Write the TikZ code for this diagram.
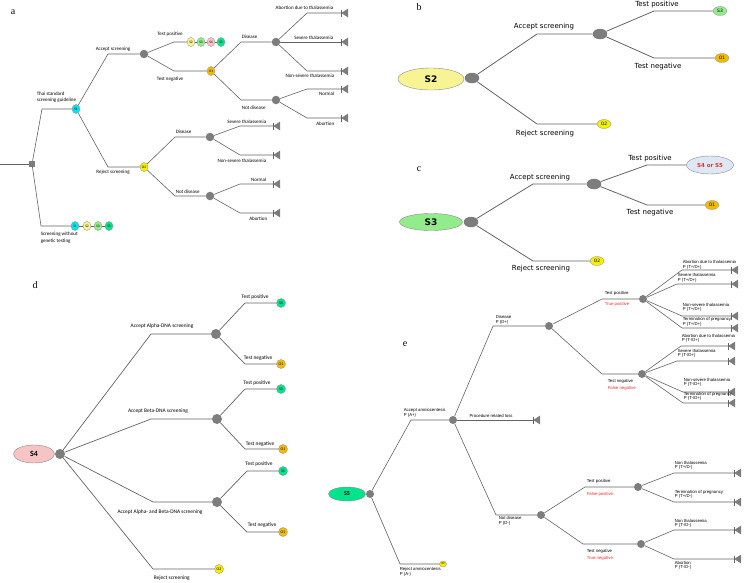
\documentclass[tikz,border=0pt]{standalone}
\usepackage{fontspec}
\setmainfont{Liberation Serif}
\newfontfamily\calfont{Carlito}
\newfontfamily\verfont{DejaVu Sans}
\newfontfamily\arfont{Liberation Sans}
\usepackage{tikz}
\usetikzlibrary{shapes.geometric}
\definecolor{linegray}{RGB}{100,100,100}
\definecolor{nodegray}{RGB}{125,125,125}
\definecolor{taggray}{RGB}{140,140,140}
\definecolor{cSone}{RGB}{0,228,238}
\definecolor{cStwo}{RGB}{248,244,150}
\definecolor{cSthree}{RGB}{146,236,140}
\definecolor{cSfour}{RGB}{246,196,196}
\definecolor{cSfive}{RGB}{0,228,140}
\definecolor{cOone}{RGB}{242,188,0}
\definecolor{cOtwo}{RGB}{244,240,0}
\definecolor{cSfs}{RGB}{222,231,243}
\definecolor{txtred}{RGB}{255,40,40}
\newcommand{\lblA}{\calfont\fontsize{5}{6.8}\selectfont}
\newcommand{\lblB}{\verfont\fontsize{7}{8}\selectfont}
\newcommand{\lblD}{\calfont\fontsize{5.4}{6.4}\selectfont}
\newcommand{\lblE}{\arfont\fontsize{4.3}{4.5}\selectfont}
\newcommand{\tagA}{\calfont\fontsize{3.6}{4}\selectfont}
\newcommand{\tagB}{\verfont\fontsize{4.5}{5}\selectfont}
\newcommand{\tagD}{\calfont\fontsize{4}{4.5}\selectfont}
\newcommand{\tagE}{\calfont\fontsize{3}{3.5}\selectfont}
\newcommand{\bigB}{\verfont\bfseries\fontsize{9}{10}\selectfont}
\newcommand{\smallB}{\verfont\bfseries\fontsize{5.5}{6}\selectfont}
\newcommand{\bigD}{\calfont\bfseries\fontsize{8}{9}\selectfont}
\newcommand{\bigE}{\calfont\bfseries\fontsize{6}{7}\selectfont}

\begin{document}
\begin{tikzpicture}[x=1pt, y=-1pt,
    ln/.style={draw=linegray, line width=0.7pt},
    chance/.style={ellipse, fill=nodegray, inner sep=0pt, chsz},
    chsz/.style={minimum width=8.5pt, minimum height=8.5pt},
    dec/.style={rectangle, fill=nodegray, minimum size=6pt, inner sep=0pt},
    tag/.style={ellipse, draw=taggray, line width=0.3pt, fill=#1, inner sep=0pt, tagsz},
    tagsz/.style={minimum width=8pt, minimum height=9pt, font=\tagA},
    state/.style={ellipse, draw=taggray, line width=0.4pt, fill=#1, inner sep=0pt},
    term/.style={anchor=west, inner sep=0pt, minimum width=7pt, minimum height=9pt,
        path picture={
            \fill[nodegray] (path picture bounding box.west) -- (path picture bounding box.north east)
                -- (path picture bounding box.south east) -- cycle;
            \draw[linegray, line width=0.9pt] ([xshift=0.45pt, yshift=3.5pt]path picture bounding box.west)
                -- ([xshift=0.45pt, yshift=-3.5pt]path picture bounding box.west);}},
    lbl/.style={inner sep=0.5pt, align=left, font=\lblA},
    panel/.style={font=\fontsize{10}{12}\selectfont, inner sep=0pt}
]
\useasboundingbox (0,0) rectangle (753,582);

% a: main tree
\begin{scope}[lbl/.style={inner sep=0.5pt, align=left, font=\lblA}, ln/.style={draw=linegray, line width=0.6pt}]
\node[panel] (la) at (13,12) {a};
\coordinate (ain) at (0,164);
\node[dec] (root) at (32,164) {};
\node[tag=cSone] (a1) at (76,109) {S1};
\node[tag=cSone] (b1) at (75,226) {S1};
\node[tag=cStwo] (b2) at (87,226) {S2};
\node[tag=cSthree] (b3) at (98,226) {S3};
\node[tag=cSfive] (b5) at (109,226) {S5};
\node[chance] (ac1) at (144,54) {};
\node[tag=cOtwo] (aO2) at (144,167) {O2};
\node[tag=cStwo] (p2) at (191,42) {S2};
\node[tag=cSthree] (p3) at (201,42) {S3};
\node[tag=cSfour] (p4) at (211,42) {S4};
\node[tag=cSfive] (p5) at (221,42) {S5};
\node[tag=cOone] (aO1) at (211,71) {O1};
\node[chance] (ac2) at (276,42) {};
\node[chance] (ac3) at (276,100) {};
\node[chance] (ac4) at (210,137) {};
\node[chance] (ac5) at (210,196) {};
\node[term] (at1) at (341,13) {};
\node[term] (at2) at (341,42) {};
\node[term] (at3) at (341,71) {};
\node[term] (at4) at (341,89) {};
\node[term] (at5) at (341,118) {};
\node[term] (at6) at (273,126) {};
\node[term] (at7) at (273,155) {};
\node[term] (at8) at (273,184) {};
\node[term] (at9) at (273,213) {};

\draw[ln] (ain) -- (root);
\draw[ln] (root) -- ([xshift=-34pt]a1.center) node[lbl, above right, xshift=-6pt, yshift=5.5pt] {Thai standard\\screening guideline} -- (a1);
\draw[ln] (root) -- ([xshift=-34pt]b1.center) node[lbl, below right, xshift=-1pt, yshift=-5pt] {Screening without\\genetic testing} -- (b1);
\draw[ln] (b1) -- (b2) -- (b3) -- (b5);
\draw[ln] (a1) -- ([xshift=-36pt]ac1.center) node[lbl, above, xshift=5pt, yshift=2pt] {Accept screening} -- (ac1);
\draw[ln] (a1) -- ([xshift=-36pt]aO2.center) node[lbl, below, xshift=5pt, yshift=-2pt] {Reject screening} -- (aO2);
\draw[ln] (ac1) -- ([xshift=-17pt]p2.center) node[lbl, above, xshift=-4pt, yshift=5pt] {Test positive} -- (p2);
\draw[ln] (p2) -- (p3) -- (p4) -- (p5);
\draw[ln] (ac1) -- ([xshift=-37pt]aO1.center) node[lbl, below, xshift=-4pt, yshift=-5pt] {Test negative} -- (aO1);
\draw[ln] (aO1) -- ([xshift=-35pt]ac2.center) node[lbl, above right, yshift=3pt] {Disease} -- (ac2);
\draw[ln] (aO1) -- ([xshift=-35pt]ac3.center) node[lbl, below right, yshift=-5pt] {Not disease} -- (ac3);
\draw[ln] (ac2) -- ([xshift=-34pt]at1.west) -- (at1.west) node[lbl, above left, xshift=-7pt, yshift=3pt] {Abortion due to thalassemia};
\draw[ln] (ac2) -- (at2.west) node[lbl, above left, xshift=-7pt, yshift=2pt] {Severe thalassemia};
\draw[ln] (ac2) -- ([xshift=-34pt]at3.west) -- (at3.west) node[lbl, below left, xshift=-6pt, yshift=-2pt] {Non-severe thalassemia};
\draw[ln] (ac3) -- ([xshift=-34pt]at4.west) -- (at4.west) node[lbl, below left, xshift=-6pt, yshift=-2pt] {Normal};
\draw[ln] (ac3) -- ([xshift=-34pt]at5.west) -- (at5.west) node[lbl, below left, xshift=-6pt, yshift=-3pt] {Abortion};
\draw[ln] (aO2) -- ([xshift=-35pt]ac4.center) node[lbl, above right, yshift=3pt] {Disease} -- (ac4);
\draw[ln] (aO2) -- ([xshift=-35pt]ac5.center) node[lbl, above right, yshift=2pt] {Not disease} -- (ac5);
\draw[ln] (ac4) -- ([xshift=-33pt]at6.west) -- (at6.west) node[lbl, above left, xshift=-6pt, yshift=2pt] {Severe thalassemia};
\draw[ln] (ac4) -- ([xshift=-33pt]at7.west) -- (at7.west) node[lbl, below left, xshift=-6pt, yshift=-3pt] {Non-severe thalassemia};
\draw[ln] (ac5) -- ([xshift=-33pt]at8.west) -- (at8.west) node[lbl, above left, xshift=-6pt, yshift=2pt] {Normal};
\draw[ln] (ac5) -- ([xshift=-33pt]at9.west) -- (at9.west) node[lbl, below left, xshift=-5pt, yshift=-3pt] {Abortion};
\end{scope}

% b: S2
\begin{scope}[lbl/.style={inner sep=0.5pt, align=left, font=\lblB},
    tagsz/.style={minimum width=13.5pt, minimum height=9pt, font=\tagB},
    chsz/.style={minimum width=14.5pt, minimum height=10.5pt}, ln/.style={draw=linegray, line width=0.8pt}]
\node[panel] (lb) at (419,7) {b};
\node[state=cStwo, minimum width=66pt, minimum height=22pt, font=\bigB] (S2) at (431,79) {S2};
\node[chance] (bc0) at (472,78) {};
\node[chance] (bc1) at (600,34) {};
\node[tag=cOtwo] (bO2) at (604,124) {O2};
\node[tag=cSthree] (bS3) at (720,11) {S3};
\node[tag=cOone] (bO1) at (722,58) {O1};
\draw[ln] (bc0) -- ([xshift=-63pt]bc1.center) node[lbl, above, xshift=7pt, yshift=3.5pt] {Accept screening} -- (bc1);
\draw[ln] (bc0) -- ([xshift=-67pt]bO2.center) node[lbl, below, xshift=8pt, yshift=-5.5pt] {Reject screening} -- (bO2);
\draw[ln] (bc1) -- ([xshift=-66pt]bS3.center) node[lbl, above, xshift=3pt, yshift=2.5pt] {Test positive} -- (bS3);
\draw[ln] (bc1) -- ([xshift=-68pt]bO1.center) node[lbl, below, xshift=4pt, yshift=-4pt] {Test negative} -- (bO1);
\end{scope}

% c: S3
\begin{scope}[lbl/.style={inner sep=0.5pt, align=left, font=\lblB},
    tagsz/.style={minimum width=13.5pt, minimum height=9pt, font=\tagB},
    chsz/.style={minimum width=14.5pt, minimum height=10.5pt}, ln/.style={draw=linegray, line width=0.8pt}]
\node[panel] (lc) at (419,169) {c};
\node[state=cSthree, minimum width=63pt, minimum height=17pt, font=\bigB] (S3) at (431,222) {S3};
\node[chance] (cc0) at (471,222) {};
\node[chance] (cc1) at (594,184) {};
\node[tag=cOtwo] (cO2) at (597,261) {O2};
\node[state=cSfs, minimum width=47pt, minimum height=18pt, font=\smallB, text=txtred] (S45) at (710,165) {S4 or S5};
\node[tag=cOone] (cO1) at (712,205) {O1};
\draw[ln] (cc0) -- ([xshift=-61pt]cc1.center) node[lbl, above, xshift=7pt, yshift=2.5pt] {Accept screening} -- (cc1);
\draw[ln] (cc0) -- ([xshift=-64pt]cO2.center) node[lbl, below, xshift=8pt, yshift=-3.5pt] {Reject screening} -- (cO2);
\draw[ln] (cc1) -- ([xshift=-63pt]S45.center) node[lbl, above, xshift=3pt, yshift=2.5pt] {Test positive} -- (S45);
\draw[ln] (cc1) -- ([xshift=-65pt]cO1.center) node[lbl, below, xshift=3pt, yshift=-3pt] {Test negative} -- (cO1);
\end{scope}

% d: S4
\begin{scope}[lbl/.style={inner sep=0.5pt, align=left, font=\lblD},
    tagsz/.style={minimum width=9pt, minimum height=9pt, font=\tagD},
    chsz/.style={minimum width=10pt, minimum height=10pt}]
\node[panel] (ld) at (35,285) {d};
\node[state=cSfour, minimum width=41pt, minimum height=18pt, font=\bigD] (S4) at (34,454) {S4};
\node[chance] (dc0) at (60,454) {};
\node[chance] (dc1) at (216,334) {};
\node[chance] (dc2) at (217,419) {};
\node[chance] (dc3) at (217,502) {};
\node[tag=cOtwo] (dO2) at (219,569) {O2};
\node[tag=cSfive] (dS5a) at (281,303) {S5};
\node[tag=cOone] (dO1a) at (281,364) {O1};
\node[tag=cSfive] (dS5b) at (281,389) {S5};
\node[tag=cOone] (dO1b) at (283,449) {O1};
\node[tag=cSfive] (dS5c) at (283,471) {S5};
\node[tag=cOone] (dO1c) at (283,532) {O1};
\draw[ln] (dc0) -- ([xshift=-65pt]dc1.center) node[lbl, above, xshift=11pt, yshift=4.5pt] {Accept Alpha-DNA screening} -- (dc1);
\draw[ln] (dc0) -- ([xshift=-66pt]dc2.center) node[lbl, above, xshift=7pt, yshift=4.5pt] {Accept Beta-DNA screening} -- (dc2);
\draw[ln] (dc0) -- ([xshift=-64pt]dc3.center) node[lbl, below, xshift=7pt, yshift=-6.5pt] {Accept Alpha- and Beta-DNA screening} -- (dc3);
\draw[ln] (dc0) -- ([xshift=-66pt]dO2.center) node[lbl, below right, yshift=-5.5pt] {Reject screening} -- (dO2);
\draw[ln] (dc1) -- ([xshift=-36pt]dS5a.center) node[lbl, above, xshift=10pt, yshift=2.5pt] {Test positive} -- (dS5a);
\draw[ln] (dc1) -- ([xshift=-36pt]dO1a.center) node[lbl, above, xshift=13pt, yshift=2.5pt] {Test negative} -- (dO1a);
\draw[ln] (dc2) -- ([xshift=-36pt]dS5b.center) node[lbl, above, xshift=12pt, yshift=2.5pt] {Test positive} -- (dS5b);
\draw[ln] (dc2) -- ([xshift=-38pt]dO1b.center) node[lbl, above, xshift=15pt, yshift=1.5pt] {Test negative} -- (dO1b);
\draw[ln] (dc3) -- ([xshift=-36pt]dS5c.center) node[lbl, above, xshift=12pt, yshift=3.5pt] {Test positive} -- (dS5c);
\draw[ln] (dc3) -- ([xshift=-36pt]dO1c.center) node[lbl, above, xshift=15pt, yshift=3.5pt] {Test negative} -- (dO1c);
\end{scope}

% e: S5
\begin{scope}[lbl/.style={inner sep=0.5pt, align=left, font=\lblE},
    tagsz/.style={minimum width=7pt, minimum height=6pt, font=\tagE},
    chsz/.style={minimum width=8pt, minimum height=8pt}, ln/.style={draw=linegray, line width=0.6pt}]
\node[panel] (le) at (405,344) {e};
\node[state=cSfive, minimum width=37pt, minimum height=14pt, font=\bigE] (S5) at (347,494) {S5};
\node[chance] (ec0) at (370,494) {};
\node[chance] (ec1) at (453,420) {};
\node[tag=cOtwo] (eO2) at (443,564) {O2};
\node[term] (et0) at (533,420) {};
\node[chance] (ec2) at (549,326) {};
\node[chance] (ec3) at (541,515) {};
\node[chance] (ec4) at (643,299) {};
\node[chance] (ec5) at (642,374) {};
\node[chance] (ec6) at (638,487) {};
\node[chance] (ec7) at (641,544) {};
\node[term] (et1) at (731,270) {};
\node[term] (et2) at (731,284) {};
\node[term] (et3) at (731,316) {};
\node[term] (et4) at (731,328) {};
\node[term] (et5) at (728,346) {};
\node[term] (et6) at (728,361) {};
\node[term] (et7) at (728,392) {};
\node[term] (et8) at (728,403) {};
\node[term] (et9) at (734,473) {};
\node[term] (et10) at (734,502) {};
\node[term] (et11) at (734,530) {};
\node[term] (et12) at (734,559) {};

\draw[ln] (ec0) -- ([xshift=-42pt]ec1.center) node[lbl, above right, xshift=-8pt, yshift=2pt] {Accept amniocentesis\\P (A+)} -- (ec1);
\draw[ln] (ec0) -- ([xshift=-43pt]eO2.center) node[lbl, below right, xshift=-1pt, yshift=-3pt] {Reject amniocentesis\\P (A-)} -- (eO2);
\draw[ln] (ec1) -- (et0.west) node[lbl, midway, above, xshift=-4pt, yshift=1.5pt] {Procedure related loss};
\draw[ln] (ec1) -- ([xshift=-56pt]ec2.center) node[lbl, above right, xshift=2pt, yshift=1pt] {Disease\\P (D+)} -- (ec2);
\draw[ln] (ec1) -- ([xshift=-45pt]ec3.center) node[lbl, below right, xshift=2pt, yshift=-1pt] {Not disease\\P (D-)} -- (ec3);
\draw[ln] (ec2) -- ([xshift=-41pt]ec4.center)
    node[lbl, above right, xshift=2pt, yshift=2.5pt] {Test positive}
    node[lbl, below right, xshift=2pt, yshift=-2.5pt, text=txtred] {True positive} -- (ec4);
\draw[ln] (ec2) -- ([xshift=-40pt]ec5.center)
    node[lbl, below right, xshift=5pt, yshift=-4.3pt] {Test negative}
    node[lbl, below right, xshift=5pt, yshift=-11.3pt, text=txtred] {False negative} -- (ec5);
\draw[ln] (ec3) -- ([xshift=-53pt]ec6.center)
    node[lbl, above right, xshift=1pt, yshift=2.5pt] {Test positive}
    node[lbl, below right, xshift=1pt, yshift=-4.5pt, text=txtred] {False positive} -- (ec6);
\draw[ln] (ec3) -- ([xshift=-58pt]ec7.center)
    node[lbl, below right, xshift=3pt, yshift=-4.3pt] {Test negative}
    node[lbl, below right, xshift=3pt, yshift=-11.3pt, text=txtred] {True negative} -- (ec7);
\draw[ln] (ec4) -- ([xshift=-49pt]et1.west) node[lbl, above right] {Abortion due to thalassemia\\P (T+/D+)} -- (et1.west);
\draw[ln] (ec4) -- ([xshift=-54pt]et2.west) node[lbl, above right, yshift=1pt] {Severe thalassemia\\P (T+/D+)} -- (et2.west);
\draw[ln] (ec4) -- ([xshift=-49pt]et3.west) node[lbl, above right, yshift=3.5pt] {Non-severe thalassemia\\P (T+/D+)} -- (et3.west);
\draw[ln] (ec4) -- ([xshift=-49pt]et4.west) node[lbl, above right, yshift=1pt] {Termination of pregnancy\\P (T+/D+)} -- (et4.west);
\draw[ln] (ec5) -- ([xshift=-47pt]et5.west) node[lbl, above right, yshift=2.5pt] {Abortion due to thalassemia\\P (T-/D+)} -- (et5.west);
\draw[ln] (ec5) -- ([xshift=-51pt]et6.west) node[lbl, above right, yshift=2.5pt] {Severe thalassemia\\P (T-/D+)} -- (et6.west);
\draw[ln] (ec5) -- ([xshift=-45pt]et7.west) node[lbl, above right, yshift=4.5pt] {Non-severe thalassemia\\P (T-/D+)} -- (et7.west);
\draw[ln] (ec5) -- ([xshift=-45pt]et8.west) node[lbl, above right, yshift=1.5pt] {Termination of pregnancy\\P (T-/D+)} -- (et8.west);
\draw[ln] (ec6) -- ([xshift=-60pt]et9.west) node[lbl, above right, yshift=2.5pt] {Non thalassemia\\P (T+/D-)} -- (et9.west);
\draw[ln] (ec6) -- ([xshift=-60pt]et10.west) node[lbl, above right, yshift=2.5pt] {Termination of pregnancy\\P (T+/D-)} -- (et10.west);
\draw[ln] (ec7) -- ([xshift=-60pt]et11.west) node[lbl, above right, yshift=1.5pt] {Non thalassemia\\P (T-/D-)} -- (et11.west);
\draw[ln] (ec7) -- ([xshift=-60pt]et12.west) node[lbl, below right, yshift=-1.3pt] {Abortion\\P (T-/D-)} -- (et12.west);
\end{scope}
\end{tikzpicture}
\end{document}
